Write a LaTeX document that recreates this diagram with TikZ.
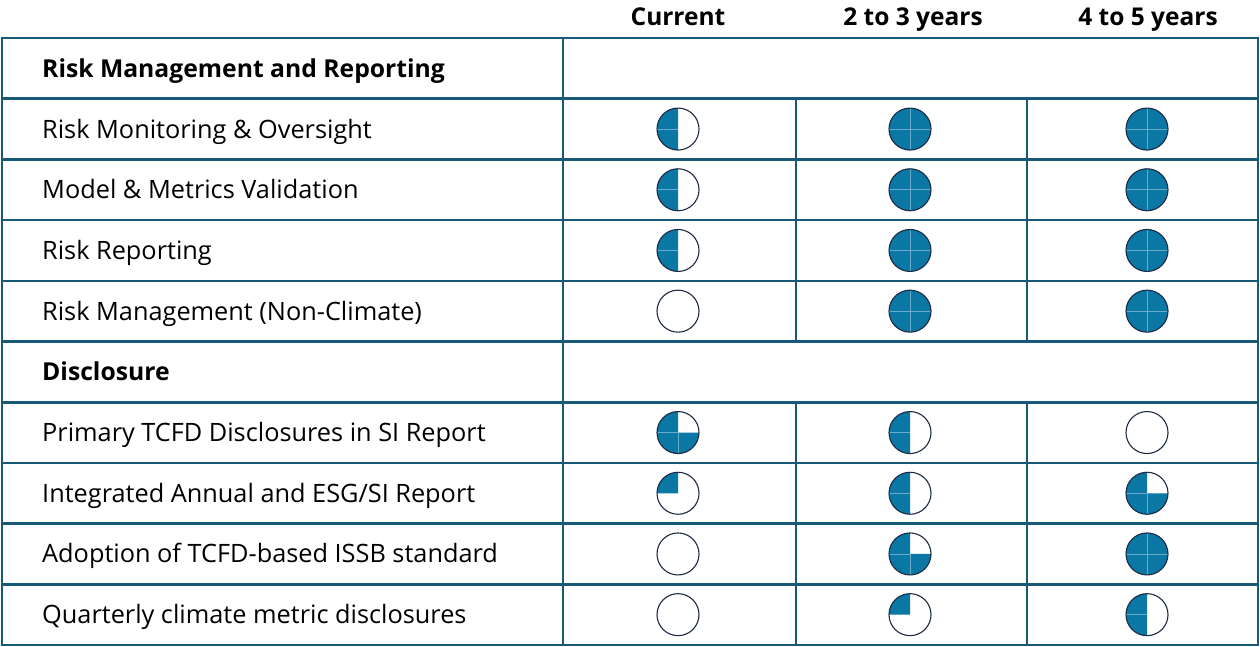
\documentclass[tikz,border=0pt]{standalone}
\usepackage{fontspec}
\setmainfont{Open Sans}

\definecolor{gridline}{HTML}{175A78}
\definecolor{ballfill}{HTML}{0A77A5}
\definecolor{balledge}{HTML}{1C2A44}
\definecolor{ballcross}{HTML}{6AAACB}

\tikzset{
  rowlabel/.style={anchor=west, inner sep=0pt, text height=18pt, text depth=0pt,
    font=\fontsize{25.3}{30}\selectfont},
  sectlabel/.style={rowlabel, font=\fontsize{24.7}{30}\selectfont\bfseries},
  colhead/.style={inner sep=0pt, text height=18pt, text depth=0pt,
    font=\fontsize{24.5}{30}\selectfont\bfseries},
}

% harvey ball: centre, filled quarters (0..4)
\newcommand{\hball}[2]{%
  \ifnum#2>0
    \fill[ballfill] (#1) -- ++(270:21) arc[start angle=270, delta angle=-#2*90, radius=21] -- cycle;
  \fi
  \ifnum#2>1
    \foreach \k in {2,...,#2} \draw[ballcross, line width=0.6pt] (#1) -- ++({360-\k*90}:21);
  \fi
  \ifnum#2=4
    \draw[ballcross, line width=0.6pt] (#1) -- ++(270:21);
  \fi
  \draw[balledge, line width=1.1pt] (#1) circle[radius=21];
}

\begin{document}
\begin{tikzpicture}[x=1pt, y=-1pt]
  \useasboundingbox (0,0) rectangle (1260,646);

  % grid
  \foreach \k in {1,...,9}
    \draw[gridline, line width=2.6pt] (2,38+60.7*\k) -- (1258,38+60.7*\k);
  \draw[gridline, line width=2pt] (563,38) -- (563,645);
  \foreach \x in {796,1027} {
    \draw[gridline, line width=2.4pt] (\x,98.7) -- (\x,341.5);
    \draw[gridline, line width=2.4pt] (\x,402.2) -- (\x,645);
  }
  \draw[gridline, line width=2.6pt] (2,38) rectangle (1258,645);

  % column heads
  \node[colhead] (hcur) at (678,16) {Current};
  \node[colhead] (hmid) at (913,16) {2 to 3 years};
  \node[colhead] (hlong) at (1148,16) {4 to 5 years};

  % risk management rows
  \node[sectlabel] (srisk) at (42,68.35) {Risk Management and Reporting};
  \node[rowlabel] (r1) at (42,129.05) {Risk Monitoring \& Oversight};
  \node[rowlabel] (r2) at (42,189.75) {Model \& Metrics Validation};
  \node[rowlabel] (r3) at (42,250.45) {Risk Reporting};
  \node[rowlabel] (r4) at (42,311.15) {Risk Management (Non-Climate)};

  % disclosure rows
  \node[sectlabel] (sdisc) at (42,371.85) {Disclosure};
  \node[rowlabel] (d1) at (42,432.55) {Primary TCFD Disclosures in SI Report};
  \node[rowlabel] (d2) at (42,493.25) {Integrated Annual and ESG/SI Report};
  \node[rowlabel] (d3) at (42,553.95) {Adoption of TCFD-based ISSB standard};
  \node[rowlabel] (d4) at (42,614.65) {Quarterly climate metric disclosures};

  % balls
  \hball{678,129.05}{2} \hball{910,129.05}{4} \hball{1147,129.05}{4}
  \hball{678,189.75}{2} \hball{910,189.75}{4} \hball{1147,189.75}{4}
  \hball{678,250.45}{2} \hball{910,250.45}{4} \hball{1147,250.45}{4}
  \hball{678,311.15}{0} \hball{910,311.15}{4} \hball{1147,311.15}{4}

  \hball{678,432.55}{3} \hball{910,432.55}{2} \hball{1147,432.55}{0}
  \hball{678,493.25}{1} \hball{910,493.25}{2} \hball{1147,493.25}{3}
  \hball{678,553.95}{0} \hball{910,553.95}{3} \hball{1147,553.95}{4}
  \hball{678,614.65}{0} \hball{910,614.65}{1} \hball{1147,614.65}{2}
\end{tikzpicture}
\end{document}
